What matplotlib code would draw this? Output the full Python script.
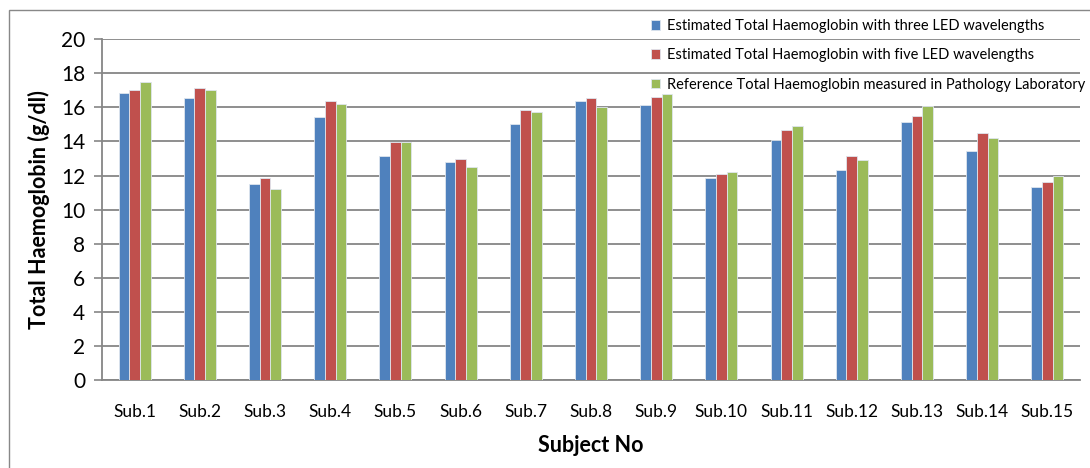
import numpy as np
import matplotlib
matplotlib.use("Agg")
import matplotlib.pyplot as plt
from matplotlib.patches import Rectangle

plt.rcParams['font.family'] = ['Lato', 'DejaVu Sans']

subjects = ["Sub.1", "Sub.2", "Sub.3", "Sub.4", "Sub.5", "Sub.6", "Sub.7", "Sub.8",
            "Sub.9", "Sub.10", "Sub.11", "Sub.12", "Sub.13", "Sub.14", "Sub.15"]
three_led = [16.85, 16.56, 11.52, 15.41, 13.14, 12.79, 15.02, 16.35,
             16.11, 11.87, 14.10, 12.32, 15.15, 13.44, 11.31]
five_led = [17.01, 17.11, 11.84, 16.35, 13.98, 12.95, 15.84, 16.54,
            16.62, 12.09, 14.69, 13.13, 15.49, 14.47, 11.62]
reference = [17.50, 16.99, 11.19, 16.17, 13.98, 12.50, 15.70, 16.00,
             16.79, 12.19, 14.88, 12.89, 16.09, 14.20, 11.97]
series_labels = ["Estimated Total Haemoglobin with three LED wavelengths",
                 "Estimated Total Haemoglobin with five LED wavelengths",
                 "Reference Total Haemoglobin measured in Pathology Laboratory"]
colors = ["#4F81BD", "#C0504D", "#9BBB59"]
y_ticks = [0, 2, 4, 6, 8, 10, 12, 14, 16, 18, 20]

fig = plt.figure(figsize=(10.9, 4.68), dpi=100)
ax = fig.add_axes([0.0936, 0.187, 0.8972, 0.7297])

x = np.arange(len(subjects))
width = 0.164
for i, (vals, col, lab) in enumerate(zip([three_led, five_led, reference], colors, series_labels)):
    ax.bar(x + (i - 1) * width, vals, width, color=col, edgecolor="#dfe6ee",
           linewidth=0.6, label=lab, zorder=3)

ax.set_xlim(-0.5, len(subjects) - 0.5)
ax.set_ylim(0, 20)
ax.set_yticks(y_ticks)
ax.set_xticks(x)
ax.set_xticklabels(subjects, fontsize=12.5)
ax.tick_params(axis='y', labelsize=15, length=6, width=1.2, color="#868686", pad=6)
ax.tick_params(axis='x', length=0, pad=17)
ax.yaxis.grid(True, color="#868686", linewidth=1.3, zorder=0)
ax.set_axisbelow(True)
for side in ["top", "right"]:
    ax.spines[side].set_visible(False)
ax.spines["left"].set_color("#868686")
ax.spines["left"].set_linewidth(1.3)
ax.spines["bottom"].set_color("#868686")
ax.spines["bottom"].set_linewidth(1.3)

ax.set_ylabel("Total Haemoglobin (g/dl)", fontsize=15.5, fontweight="bold", labelpad=8)
ax.set_xlabel("Subject No", fontsize=15.5, fontweight="bold", labelpad=11)

leg = ax.legend(loc="upper right", bbox_to_anchor=(1088 / 1090, 1 - 16 / 468),
                bbox_transform=fig.transFigure, frameon=False, fontsize=10.5,
                handlelength=0.65, handleheight=0.65, handletextpad=0.45,
                labelspacing=1.05, borderaxespad=0.0, borderpad=0.2)

# chart-area border (runs off the right and bottom edges)
fig.patches.append(Rectangle((9 / 1090, -20 / 468), 1100 / 1090, 478 / 468,
                             transform=fig.transFigure, fill=False,
                             edgecolor="#888888", linewidth=1.0))

fig.savefig("out.png", dpi=100)
